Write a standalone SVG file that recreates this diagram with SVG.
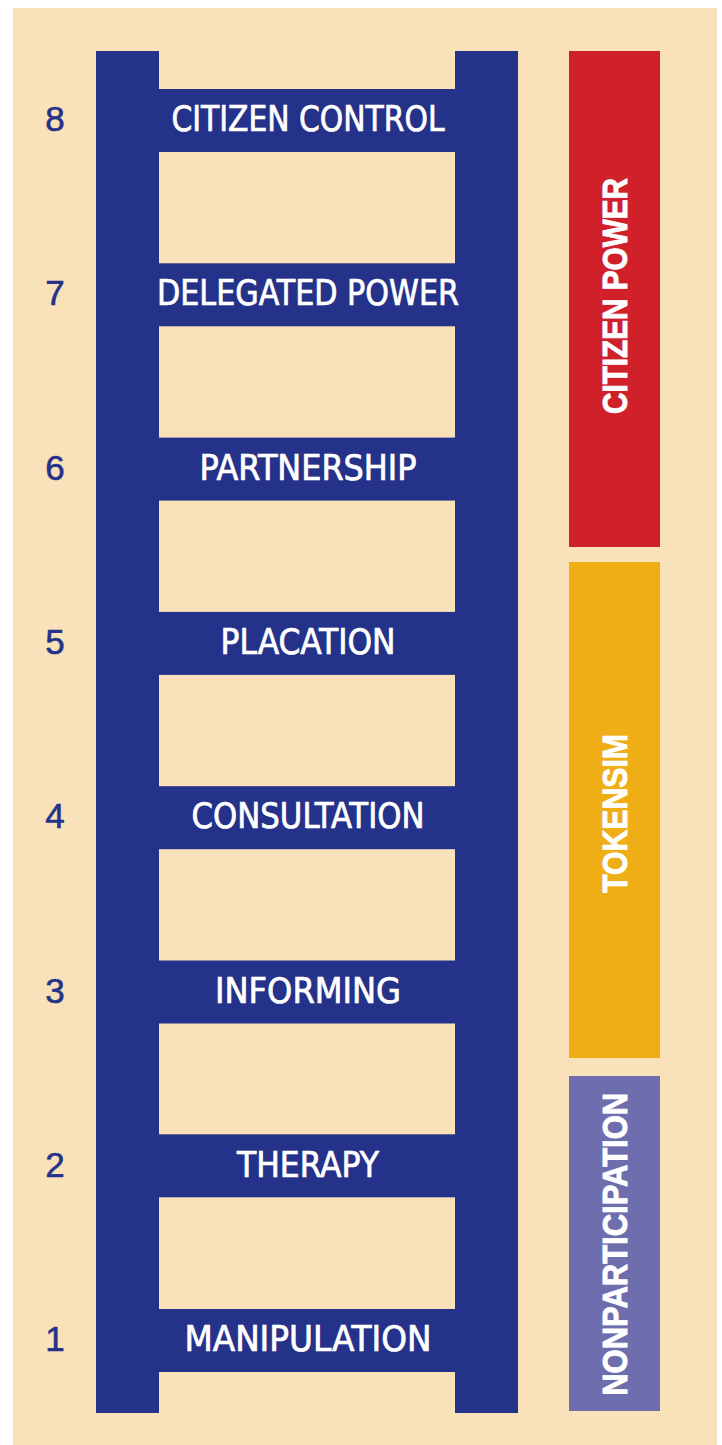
<svg xmlns="http://www.w3.org/2000/svg" width="722" height="1445" viewBox="0 0 722 1445">
<style>
.bg{fill:#F9E2B9}
.navy{fill:#253289}
.num{font-family:"Liberation Sans","Noto Sans",sans-serif;font-size:35px;fill:#253289;stroke:#253289;stroke-width:0.6;text-anchor:middle}
.lbl{font-family:"Liberation Sans Narrow","DejaVu Sans Condensed","Liberation Sans",sans-serif;font-size:35px;fill:#ffffff;stroke:#ffffff;stroke-width:0.7;text-anchor:middle}
.side{font-family:"Liberation Sans","DejaVu Sans",sans-serif;font-weight:bold;font-size:35px;fill:#ffffff;stroke:#ffffff;stroke-width:0.9;text-anchor:middle}
</style>
<rect class="bg" x="13" y="8" width="704" height="1437"/>
<g id="ladder">
<rect class="navy" x="96" y="51" width="63" height="1362"/>
<rect class="navy" x="455" y="51" width="63" height="1362"/>
</g>
<g id="rung8"><rect class="navy" x="159" y="89" width="296" height="63"/><text class="lbl" x="308" y="131" textLength="273" lengthAdjust="spacingAndGlyphs">CITIZEN CONTROL</text><text class="num" x="55" y="131">8</text></g>
<g id="rung7"><rect class="navy" x="159" y="263.3" width="296" height="63"/><text class="lbl" x="308" y="305.3" textLength="302" lengthAdjust="spacingAndGlyphs">DELEGATED POWER</text><text class="num" x="55" y="305.3">7</text></g>
<g id="rung6"><rect class="navy" x="159" y="437.6" width="296" height="63"/><text class="lbl" x="308" y="479.6" textLength="217" lengthAdjust="spacingAndGlyphs">PARTNERSHIP</text><text class="num" x="55" y="479.6">6</text></g>
<g id="rung5"><rect class="navy" x="159" y="611.9" width="296" height="63"/><text class="lbl" x="308" y="653.9" textLength="175" lengthAdjust="spacingAndGlyphs">PLACATION</text><text class="num" x="55" y="653.9">5</text></g>
<g id="rung4"><rect class="navy" x="159" y="786.2" width="296" height="63"/><text class="lbl" x="308" y="828.2" textLength="233" lengthAdjust="spacingAndGlyphs">CONSULTATION</text><text class="num" x="55" y="828.2">4</text></g>
<g id="rung3"><rect class="navy" x="159" y="960.5" width="296" height="63"/><text class="lbl" x="308" y="1002.5" textLength="186" lengthAdjust="spacingAndGlyphs">INFORMING</text><text class="num" x="55" y="1002.5">3</text></g>
<g id="rung2"><rect class="navy" x="159" y="1134.3" width="296" height="63"/><text class="lbl" x="308" y="1176.8" textLength="142" lengthAdjust="spacingAndGlyphs">THERAPY</text><text class="num" x="55" y="1176.8">2</text></g>
<g id="rung1"><rect class="navy" x="159" y="1309" width="296" height="63"/><text class="lbl" x="308" y="1351" textLength="247" lengthAdjust="spacingAndGlyphs">MANIPULATION</text><text class="num" x="55" y="1351">1</text></g>
<g id="citizen-power"><rect x="569" y="51" width="91" height="496" fill="#D0202A"/><text class="side" transform="translate(627,296) rotate(-90)" textLength="236" lengthAdjust="spacingAndGlyphs">CITIZEN POWER</text></g>
<g id="tokensim"><rect x="569" y="562" width="91" height="496" fill="#F0AE16"/><text class="side" transform="translate(627,813.5) rotate(-90)" textLength="159" lengthAdjust="spacingAndGlyphs">TOKENSIM</text></g>
<g id="nonparticipation"><rect x="569" y="1076" width="91" height="335" fill="#6E6DAD"/><text class="side" transform="translate(627,1244.3) rotate(-90)" textLength="303" lengthAdjust="spacingAndGlyphs">NONPARTICIPATION</text></g>
<g id="connectors"/>
</svg>
